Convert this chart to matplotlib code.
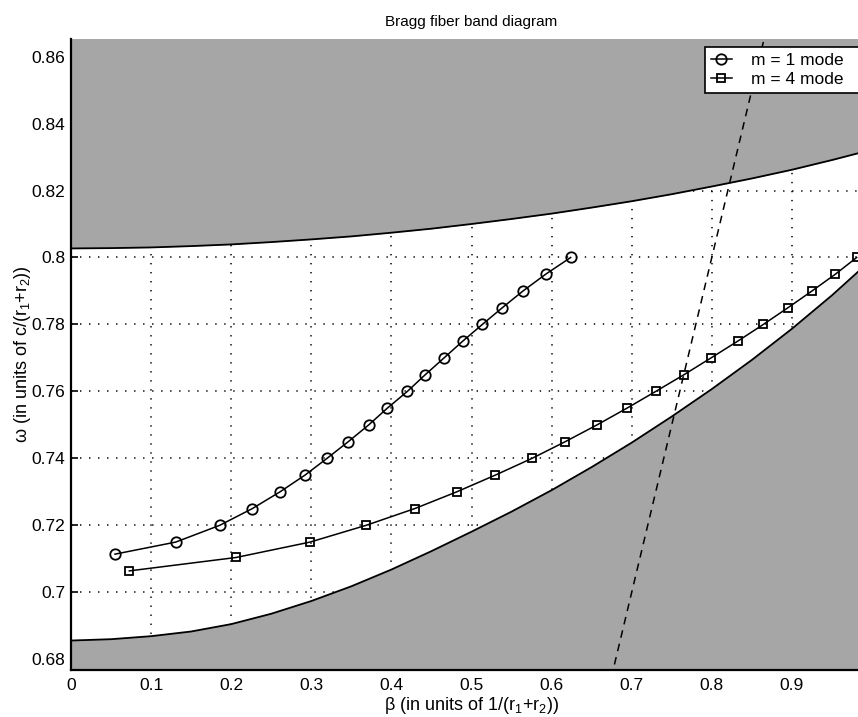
import matplotlib
matplotlib.use("Agg")
import matplotlib.pyplot as plt

# ---------------- data ----------------
band_beta = [0.00, 0.05, 0.10, 0.15, 0.20, 0.25, 0.30, 0.35, 0.40, 0.45, 0.50,
             0.55, 0.60, 0.65, 0.70, 0.75, 0.80, 0.85, 0.90, 0.95, 1.00]
upper_edge = [0.8027, 0.8028, 0.8030, 0.8034, 0.8039, 0.8046, 0.8054, 0.8063, 0.8074, 0.8086, 0.8100,
              0.8115, 0.8131, 0.8149, 0.8168, 0.8189, 0.8212, 0.8236, 0.8262, 0.8291, 0.8322]
lower_edge = [0.6856, 0.6860, 0.6869, 0.6883, 0.6905, 0.6936, 0.6974, 0.7018, 0.7068, 0.7123, 0.7181,
              0.7241, 0.7305, 0.7374, 0.7447, 0.7525, 0.7607, 0.7694, 0.7787, 0.7887, 0.7995]

light_beta = [0.60, 0.90]
light_omega = [0.60, 0.90]

m1_beta = [0.0549, 0.1307, 0.1856, 0.2263, 0.2609, 0.2921, 0.3196, 0.3462, 0.3717, 0.3949,
           0.4199, 0.4423, 0.4657, 0.4890, 0.5135, 0.5385, 0.5643, 0.5926, 0.6238]
m1_omega = [0.7114, 0.715, 0.720, 0.725, 0.730, 0.735, 0.740, 0.745, 0.750, 0.755,
            0.760, 0.765, 0.770, 0.775, 0.780, 0.785, 0.790, 0.795, 0.800]

m4_beta = [0.0728, 0.2060, 0.2984, 0.3683, 0.4291, 0.4815, 0.5297, 0.5755, 0.6171, 0.6567,
           0.6941, 0.7300, 0.7653, 0.7990, 0.8323, 0.8643, 0.8951, 0.9251, 0.9542, 0.9809]
m4_omega = [0.7064, 0.7104, 0.715, 0.720, 0.725, 0.730, 0.735, 0.740, 0.745, 0.750,
            0.755, 0.760, 0.765, 0.770, 0.775, 0.780, 0.785, 0.790, 0.795, 0.800]

x_ticks = [0, 0.1, 0.2, 0.3, 0.4, 0.5, 0.6, 0.7, 0.8, 0.9]
x_ticklabels = ["0", "0.1", "0.2", "0.3", "0.4", "0.5", "0.6", "0.7", "0.8", "0.9"]
y_ticks = [0.68, 0.70, 0.72, 0.74, 0.76, 0.78, 0.80, 0.82, 0.84, 0.86]
y_ticklabels = ["0.68", "0.7", "0.72", "0.74", "0.76", "0.78", "0.8", "0.82", "0.84", "0.86"]

# ---------------- style ----------------
plt.rcParams["font.family"] = ["Liberation Sans", "DejaVu Sans"]
plt.rcParams["mathtext.fontset"] = "custom"
plt.rcParams["mathtext.rm"] = "Liberation Sans"
plt.rcParams["mathtext.it"] = "Liberation Sans"

W, H = 858, 717
fig = plt.figure(figsize=(W / 100, H / 100), dpi=100)
ax_left, ax_right_px, ax_top, ax_bottom = 71, 872, 38.5, 670
ax_w, ax_h = ax_right_px - ax_left, ax_bottom - ax_top
ax = fig.add_axes([ax_left / W, 1 - ax_bottom / H, ax_w / W, ax_h / H])

ymin, ymax = 0.6768, 0.8654
ax.set_xlim(0, 1.0)
ax.set_ylim(ymin, ymax)

gray = "#a6a6a6"
ax.fill_between(band_beta, upper_edge, [1.0] * len(band_beta), color=gray, lw=0, zorder=1)
ax.fill_between(band_beta, [0.0] * len(band_beta), lower_edge, color=gray, lw=0, zorder=1)
ax.plot(band_beta, upper_edge, color="black", lw=1.3, zorder=2)
ax.plot(band_beta, lower_edge, color="black", lw=1.3, zorder=2)

ax.plot(light_beta, light_omega, color="black", lw=1.1, linestyle=(0, (5, 4)), zorder=3)

ax.plot(m1_beta, m1_omega, color="black", lw=1.1, marker="o", ms=7.5, mfc="none",
        mec="black", mew=1.3, label="m = 1 mode", zorder=4)
ax.plot(m4_beta, m4_omega, color="black", lw=1.1, marker="s", ms=6, mfc="none",
        mec="black", mew=1.3, label="m = 4 mode", zorder=4)

ax.set_xticks(x_ticks)
ax.set_xticklabels(x_ticklabels)
ax.set_yticks(y_ticks)
ax.set_yticklabels(y_ticklabels)
ax.tick_params(direction="in", length=5, width=1.2, labelsize=12.5, pad=6, colors="black")
ax.tick_params(axis="y", pad=4)

ax.set_axisbelow(True)
ax.grid(True, color="black", linestyle=(0, (0.9, 5)), lw=1.1)

for s in ["left", "bottom"]:
    ax.spines[s].set_linewidth(1.6)
ax.spines["top"].set_visible(False)
ax.spines["right"].set_linewidth(1.6)

ax.set_xlabel(r"β (in units of 1/(r$_1$+r$_2$))", fontsize=13, labelpad=1)
ax.set_ylabel(r"ω (in units of c/(r$_1$+r$_2$))", fontsize=13)
ax.yaxis.set_label_coords((33 - ax_left) / ax_w, 0.5)
ax.set_title("Bragg fiber band diagram", fontsize=11, pad=9)

# legend box: left edge at 705 px, top at 47 px, running off the right edge like the reference
lx0 = (705 - ax_left) / ax_w
lw_ = (872 - 705) / ax_w
ly1 = 1 - (47 - ax_top) / ax_h
lh = 45 / ax_h
leg = ax.legend(loc="upper left", mode="expand",
                bbox_to_anchor=(lx0, ly1 - lh, lw_, lh),
                borderaxespad=0, fontsize=12.5, frameon=True,
                fancybox=False, edgecolor="black", framealpha=1, handlelength=1.2,
                handletextpad=1.1, borderpad=0.35, labelspacing=0.2)
leg.get_frame().set_linewidth(1.2)
leg.set_zorder(10)

fig.savefig("out.png", dpi=100)
